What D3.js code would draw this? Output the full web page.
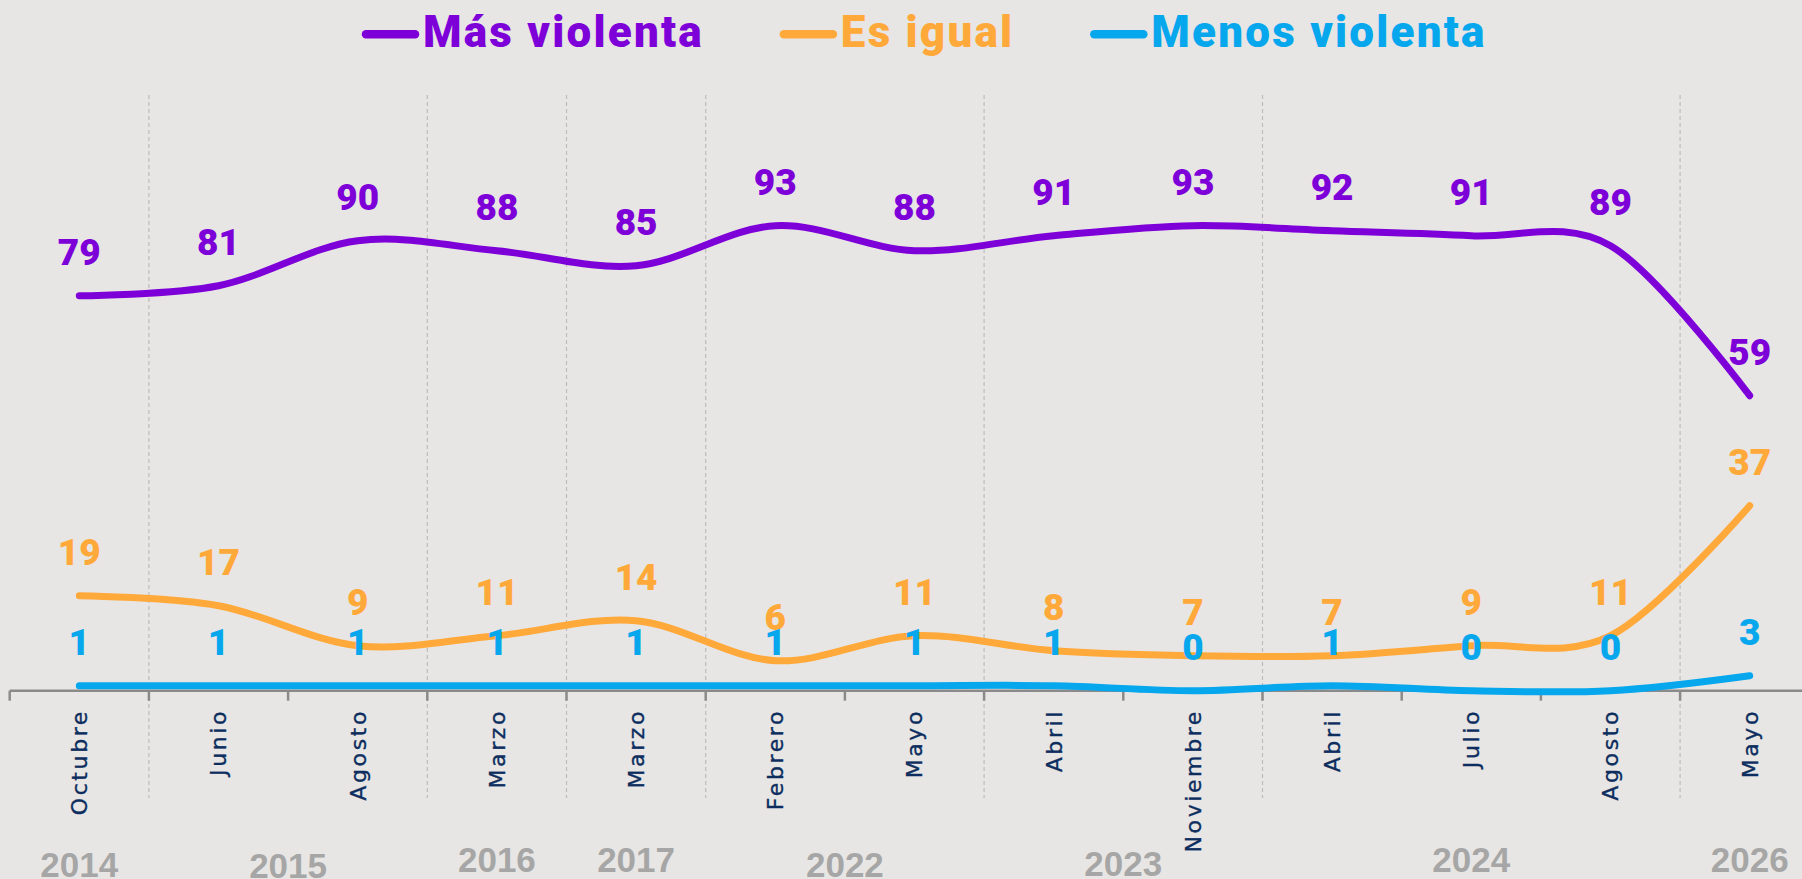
<!DOCTYPE html>
<html>
<head>
<meta charset="utf-8">
<script src="https://cdn.jsdelivr.net/npm/d3@7"></script>
<style>
  html, body { margin: 0; padding: 0; background: #e8e6e4; }
  svg { display: block; }
</style>
</head>
<body>
<svg id="chart" width="1802" height="879"></svg>
<script>
'use strict';

var months = ['Octubre', 'Junio', 'Agosto', 'Marzo', 'Marzo', 'Febrero', 'Mayo',
  'Abril', 'Noviembre', 'Abril', 'Julio', 'Agosto', 'Mayo'];
var years = ['2014', '2015', '2015', '2016', '2017', '2022', '2022',
  '2023', '2023', '2024', '2024', '2024', '2026'];

var masViolenta   = [79, 81, 90, 88, 85, 93, 88, 91, 93, 92, 91, 89, 59];
var esIgual       = [19, 17,  9, 11, 14,  6, 11,  8,  7,  7,  9, 11, 37];
var menosViolenta = [ 1,  1,  1,  1,  1,  1,  1,  1,  0,  1,  0,  0,  3];

var seriesNames = ['Más violenta', 'Es igual', 'Menos violenta'];

(function(window) {

  var colors = ['#7e00d9', '#ffa93a', '#07a7ee'];
  var series = [masViolenta, esIgual, menosViolenta].map(function(v, i) {
    return { name: seriesNames[i], values: v, color: colors[i] };
  });

  // some year labels sit a little lower in the original
  var yearDrop = { '2014': 5, '2015': 6, '2022': 5, '2023': 4 };

  var svg = d3.select('#chart');
  var W = +svg.attr('width'), H = +svg.attr('height');

  svg.append('rect').attr('width', W).attr('height', H).attr('fill', '#e8e6e4');

  var idx = d3.range(months.length);
  var x = d3.scaleBand().domain(idx).range([9.7, 9.7 + 139.2 * months.length]).paddingInner(0).paddingOuter(0);
  var cx = function(i) { return x(i) + x.bandwidth() / 2; };
  var y = d3.scaleLinear().domain([0, 100]).range([690.7, 190.7]);

  // dashed separators between years
  var seps = idx.filter(function(i) { return i > 0 && years[i] !== years[i - 1]; });
  svg.append('g').selectAll('line').data(seps).join('line')
    .attr('x1', function(i) { return x(i); })
    .attr('x2', function(i) { return x(i); })
    .attr('y1', 95).attr('y2', 798)
    .attr('stroke', '#bcbcbc').attr('stroke-width', 1.2)
    .attr('stroke-dasharray', '4,3');

  // x axis: line + ticks at band edges
  var axis = svg.append('g');
  axis.append('line')
    .attr('x1', x.range()[0]).attr('x2', W)
    .attr('y1', y(0)).attr('y2', y(0))
    .attr('stroke', '#8a8a8a').attr('stroke-width', 2.5);
  axis.selectAll('line.tick').data(idx).join('line')
    .attr('class', 'tick')
    .attr('x1', function(i) { return x(i); })
    .attr('x2', function(i) { return x(i); })
    .attr('y1', y(0)).attr('y2', y(0) + 10)
    .attr('stroke', '#8a8a8a').attr('stroke-width', 2.5);

  axis.selectAll('text.month').data(idx).join('text')
    .attr('class', 'month')
    .attr('transform', function(i) { return 'translate(' + cx(i) + ',712) rotate(-90)'; })
    .attr('text-anchor', 'end')
    .attr('dy', '0.36em')
    .attr('dx', '3px')
    .style('font-family', '"DejaVu Sans", sans-serif')
    .style('font-size', '22px')
    .style('letter-spacing', '2.6px')
    .style('stroke', '#0c2d5e').style('stroke-width', 0.35)
    .attr('fill', '#0c2d5e')
    .text(function(i) { return months[i]; });

  var groups = d3.groups(idx, function(i) { return years[i]; });
  axis.selectAll('text.year').data(groups).join('text')
    .attr('class', 'year')
    .attr('x', function(g) { return (cx(g[1][0]) + cx(g[1][g[1].length - 1])) / 2; })
    .attr('y', function(g) { return 871.7 + (yearDrop[g[0]] || 0); })
    .attr('text-anchor', 'middle')
    .style('font-family', '"Liberation Sans", Arial, sans-serif')
    .style('font-weight', 700)
    .style('font-size', '35px')
    .attr('fill', '#a6a6a6')
    .text(function(g) { return g[0]; });

  var line = d3.line()
    .x(function(d, i) { return cx(i); })
    .y(function(d) { return y(d); })
    .curve(d3.curveCatmullRom.alpha(0));

  svg.append('g').selectAll('path').data(series.slice().reverse()).join('path')
    .attr('d', function(s) { return line(s.values); })
    .attr('fill', 'none')
    .attr('stroke', function(s) { return s.color; })
    .attr('stroke-width', 7)
    .attr('stroke-linecap', 'round')
    .attr('stroke-linejoin', 'round');

  // value labels, drawn over the lines
  series.forEach(function(s) {
    svg.append('g').selectAll('text').data(s.values).join('text')
      .attr('x', function(d, i) { return cx(i); })
      .attr('y', function(d) { return y(d) - 30.5; })
      .attr('text-anchor', 'middle')
      .style('font-family', 'Roboto, sans-serif')
      .style('font-weight', 900)
      .style('font-size', '37px')
      .attr('fill', s.color)
      .text(function(d) { return d; });
  });

  // legend
  var leg = svg.append('g');
  var lx = 362;
  series.forEach(function(s) {
    var it = leg.append('g');
    it.append('line')
      .attr('x1', lx + 4).attr('x2', lx + 53)
      .attr('y1', 34.3).attr('y2', 34.3)
      .attr('stroke', s.color).attr('stroke-width', 8.5)
      .attr('stroke-linecap', 'round');
    var t = it.append('text')
      .attr('x', lx + 61).attr('y', 46.7)
      .style('font-family', 'Roboto, sans-serif')
      .style('font-weight', 900)
      .style('font-size', '44px')
      .style('letter-spacing', '2.2px')
      .attr('fill', s.color)
      .text(s.name);
    lx = lx + 61 + t.node().getComputedTextLength() + 76;
  });

})(window);
</script>
</body>
</html>
